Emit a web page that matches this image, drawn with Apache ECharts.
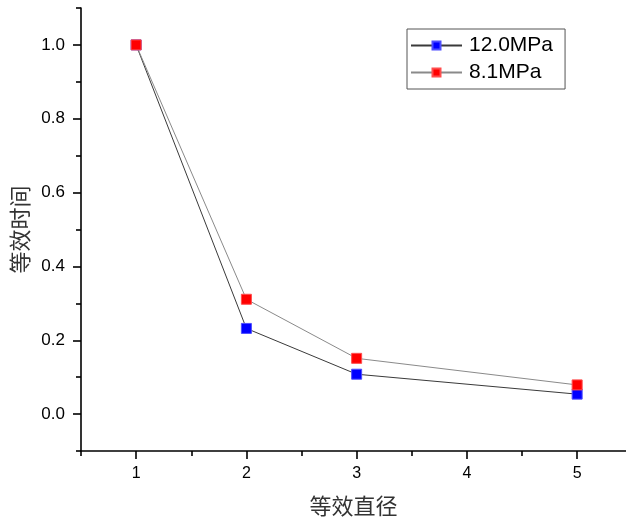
<!DOCTYPE html>
<html>
<head>
<meta charset="utf-8">
<script src="https://cdn.jsdelivr.net/npm/echarts@6/dist/echarts.min.js"></script>
<style>
html,body{margin:0;padding:0;background:#fff;}
#c{width:626px;height:523px;}
</style>
</head>
<body>
<div id="c"></div>
<script>
const xValues = [1, 2, 3, 5];
const series12 = [1.0, 0.232, 0.108, 0.054];
const series81 = [1.0, 0.311, 0.151, 0.079];
const seriesNames = ['12.0MPa', '8.1MPa'];
const xMajorTicks = [1, 2, 3, 4, 5];
const xMinorTicks = [0.5, 1.5, 2.5, 3.5, 4.5];
const yMajorTicks = [0, 0.2, 0.4, 0.6, 0.8, 1.0];
const yMinorTicks = [-0.1, 0.1, 0.3, 0.5, 0.7, 0.9, 1.1];
const xTitle = '等效直径';
const yTitle = '等效时间';

const pair = (xs, ys) => xs.map((x, i) => [x, ys[i]]);
const numFont = 'Liberation Sans, Arial, sans-serif';
const cjkFont = 'Noto Sans CJK SC, sans-serif';
const axisLineStyle = { color: '#000', width: 1.6 };

const chart = echarts.init(document.getElementById('c'), null, { renderer: 'canvas' });
chart.setOption({
  animation: false,
  backgroundColor: '#fff',
  grid: { left: 81, top: 8, right: 0, bottom: 72, containLabel: false },
  legend: {
    orient: 'vertical',
    left: 407, top: 29,
    data: seriesNames,
    borderColor: '#555', borderWidth: 1,
    padding: [6, 12, 6, 3],
    itemWidth: 51, itemHeight: 10, itemGap: 6,
    textStyle: { fontFamily: numFont, fontSize: 21, color: '#000', lineHeight: 21, padding: [0, 0, 0, 2] }
  },
  xAxis: [{
    type: 'value', min: 0.5, max: 5.443, position: 'bottom',
    name: xTitle, nameLocation: 'middle', nameGap: 44,
    nameTextStyle: { fontFamily: cjkFont, fontSize: 22, color: '#333' },
    axisLine: { show: true, onZero: false, lineStyle: axisLineStyle },
    axisTick: { show: true, length: 8, lineStyle: axisLineStyle, customValues: xMajorTicks },
    axisLabel: { customValues: xMajorTicks, margin: 15, fontFamily: numFont, fontSize: 16, color: '#000' },
    splitLine: { show: false }
  }, {
    type: 'value', min: 0.5, max: 5.443, position: 'bottom',
    axisLine: { show: false, onZero: false },
    axisTick: { show: true, length: 5, lineStyle: axisLineStyle, customValues: xMinorTicks },
    axisLabel: { show: false },
    splitLine: { show: false }
  }],
  yAxis: [{
    type: 'value', min: -0.1, max: 1.1, position: 'left',
    name: yTitle, nameLocation: 'middle', nameGap: 49, nameRotate: 90,
    nameTextStyle: { fontFamily: cjkFont, fontSize: 22, color: '#333' },
    axisLine: { show: true, onZero: false, lineStyle: axisLineStyle },
    axisTick: { show: true, length: 8, lineStyle: axisLineStyle, customValues: yMajorTicks },
    axisLabel: { customValues: yMajorTicks, margin: 16, fontFamily: numFont, fontSize: 17, color: '#000',
      formatter: v => Number(v).toFixed(1) },
    splitLine: { show: false }
  }, {
    type: 'value', min: -0.1, max: 1.1, position: 'left',
    axisLine: { show: false, onZero: false },
    axisTick: { show: true, length: 5, lineStyle: axisLineStyle, customValues: yMinorTicks },
    axisLabel: { show: false },
    splitLine: { show: false }
  }],
  series: [{
    name: seriesNames[0], type: 'line', xAxisIndex: 0, yAxisIndex: 0,
    data: pair(xValues, series12),
    symbol: 'rect', symbolSize: 10, showAllSymbol: true,
    lineStyle: { color: '#3a3a3a', width: 1 },
    itemStyle: { color: '#0000ff', borderColor: '#4d4dff', borderWidth: 1 }
  }, {
    name: seriesNames[1], type: 'line', xAxisIndex: 0, yAxisIndex: 0,
    data: pair(xValues, series81),
    symbol: 'rect', symbolSize: 10, showAllSymbol: true,
    lineStyle: { color: '#8a8a8a', width: 1 },
    itemStyle: { color: '#ff0000', borderColor: '#ff4d4d', borderWidth: 1 }
  }]
});
</script>
</body>
</html>
